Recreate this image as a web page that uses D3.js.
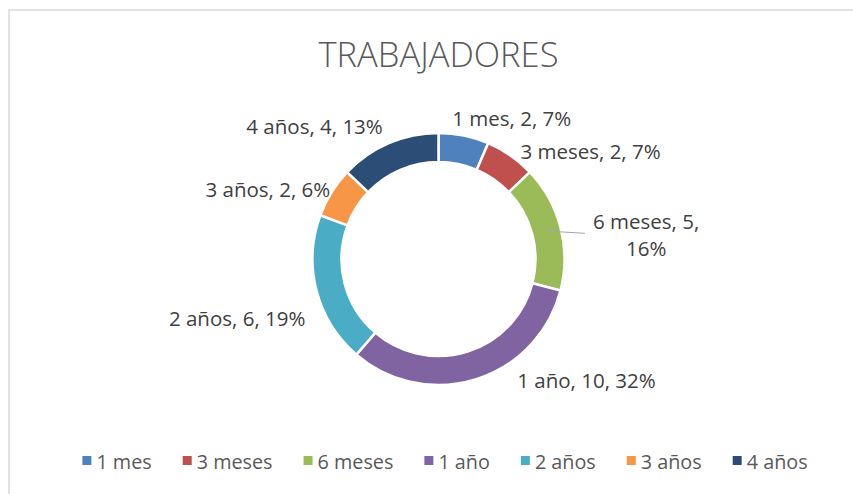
<!DOCTYPE html>
<html>
<head>
<meta charset="utf-8">
<script src="https://cdn.jsdelivr.net/npm/d3@7"></script>
<style>
body{margin:0;background:#fff;}
text{font-family:"Open Sans",sans-serif;}
</style>
</head>
<body>
<script>
var categories = ["1 mes","3 meses","6 meses","1 año","2 años","3 años","4 años"];
var values = [2,2,5,10,6,2,4];
var percents = ["7%","7%","16%","32%","19%","6%","13%"];
var colors = ["#4F81BD","#C0504D","#9BBB59","#8064A2","#4BACC6","#F79646","#2C4D75"];

// labels were dragged by hand in the original: shift from slice middle (deg) and distance from centre
var labelShift = [16,20,8,-33,-2,-10,-20];
var labelDist = [158,186,209,192,210,184,181];
var wrapped = ["6 meses"];
var leaders = ["6 meses"];

var width = 853;
var height = 494;
var cx = 438.5, cy = 259;
var outerR = 126, innerR = 97;

var svg = d3.select("body").append("svg").attr("width",width).attr("height",height);

// chart border (cut at right and bottom)
svg.append("rect")
	.attr("x",9).attr("y",10)
	.attr("width",width).attr("height",height)
	.attr("fill","none")
	.attr("stroke","#d9d9d9")
	.attr("stroke-width",1.5);

svg.append("text")
	.attr("x",cx).attr("y",67)
	.attr("text-anchor","middle")
	.attr("font-size",34.5)
	.attr("font-weight",300)
	.attr("fill","#595959")
	.text("TRABAJADORES");

var color = d3.scaleOrdinal().domain(categories).range(colors);

var pie = d3.pie().sort(null).value(function(d){ return d.value; });
var arc = d3.arc().innerRadius(innerR).outerRadius(outerR);

var rows = categories.map(function(c,i){ return {cat:c, value:values[i], pct:percents[i], i:i}; });
var arcs = pie(rows);

var chartGroup = svg.append("g").attr("transform","translate("+cx+","+cy+")");

chartGroup.selectAll("path")
	.data(arcs)
	.enter().append("path")
		.attr("d",arc)
		.attr("fill",function(d){ return color(d.data.cat); })
		.attr("stroke","#fff")
		.attr("stroke-width",2.5);

var deg = Math.PI/180;
function labelPos(d){
	var a = (d.startAngle+d.endAngle)/2 + labelShift[d.data.i]*deg;
	var r = labelDist[d.data.i];
	return [Math.sin(a)*r, -Math.cos(a)*r];
}

var labels = chartGroup.selectAll("g.lbl")
	.data(arcs)
	.enter().append("g")
		.attr("class","lbl")
		.attr("transform",function(d){ var p = labelPos(d); return "translate("+p[0]+","+p[1]+")"; });

labels.each(function(d){
	var g = d3.select(this);
	var full = d.data.cat+", "+d.data.value+", "+d.data.pct;
	var lines = wrapped.indexOf(d.data.cat) >= 0 ? [d.data.cat+", "+d.data.value+",", d.data.pct] : [full];
	var lh = 27;
	var t = g.append("text")
		.attr("text-anchor","middle")
		.attr("font-size",20.5)
		.attr("fill","#404040");
	lines.forEach(function(l,k){
		t.append("tspan")
			.attr("x",0)
			.attr("y",(k-(lines.length-1)/2)*lh + 7)
			.text(l);
	});
	if(leaders.indexOf(d.data.cat) >= 0){
		var bw = t.node().getBBox();
		var c = arc.centroid(d);
		var p = labelPos(d);
		chartGroup.append("line")
			.attr("x1",c[0]).attr("y1",c[1])
			.attr("x2",p[0]+bw.x-8).attr("y2",p[1]-2)
			.attr("stroke","#a6a6a6")
			.attr("stroke-width",1);
	}
});

// legend
var legend = svg.append("g");
var items = legend.selectAll("g")
	.data(categories)
	.enter().append("g");
items.append("rect")
	.attr("width",9).attr("height",9)
	.attr("y",-13)
	.attr("fill",function(d){ return color(d); });
items.append("text")
	.attr("x",14)
	.attr("font-size",19.8)
	.attr("fill","#595959")
	.text(function(d){ return d; });
var xoff = 0;
items.each(function(){
	d3.select(this).attr("transform","translate("+xoff+",0)");
	xoff += this.getBBox().width + 31;
});
var total = xoff - 31;
legend.attr("transform","translate("+(445-total/2)+",469)");
</script>
</body>
</html>
